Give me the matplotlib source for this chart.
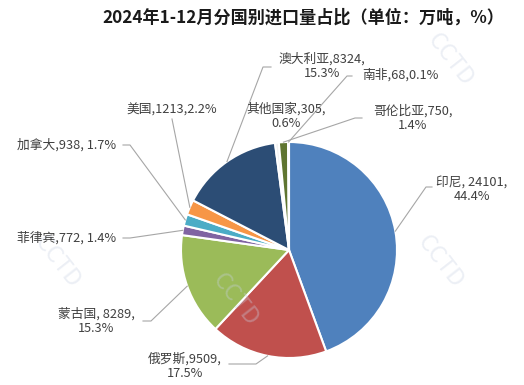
import numpy as np
import matplotlib
matplotlib.use('Agg')
import matplotlib.pyplot as plt
from matplotlib.lines import Line2D

plt.rcParams['font.family'] = ['Noto Sans CJK SC', 'DejaVu Sans']

# data
countries = ['印尼', '俄罗斯', '蒙古国', '菲律宾', '加拿大', '美国',
             '澳大利亚', '其他国家', '哥伦比亚', '南非']
volumes = [24101, 9509, 8289, 772, 938, 1213, 8324, 305, 750, 68]
labels = ['印尼, 24101,\n44.4%', '俄罗斯,9509,\n17.5%', '蒙古国, 8289,\n15.3%',
          '菲律宾,772, 1.4%', '加拿大,938, 1.7%', '美国,1213,2.2%',
          '澳大利亚,8324,\n15.3%', '其他国家,305,\n0.6%', '哥伦比亚,750,\n1.4%',
          '南非,68,0.1%']
colors = ['#4F81BD', '#C0504D', '#9BBB59', '#8064A2', '#4BACC6', '#F79646',
          '#2C4D75', '#F2F2F2', '#5F7530', '#4D3B62']

W, H = 524, 385
# label layout in pixels (top-left origin): text centre, line points near the text
layout = {
    '印尼': ((472, 189), [(432, 187), (426, 187)]),
    '俄罗斯': ((185, 366), [(229, 364), (256, 364)]),
    '蒙古国': ((96, 321), [(143, 321), (151, 321)]),
    '菲律宾': ((67, 238), [(123, 238), (130, 238)]),
    '加拿大': ((67, 145), [(123, 145), (130, 145)]),
    '美国': ((172, 110), [(172, 119)]),
    '澳大利亚': ((322, 66), [(271, 67), (263, 67)]),
    '其他国家': ((286, 116), []),
    '哥伦比亚': ((413, 118), [(362, 118), (355, 118)]),
    '南非': ((400, 75), [(352, 76), (347, 76)]),
}

fig = plt.figure(figsize=(W / 100, H / 100), dpi=100)
cx, cy, r = 289, 250, 108
ax = fig.add_axes([(cx - r) / W, (H - cy - r) / H, 2 * r / W, 2 * r / H])
wedges, _ = ax.pie(volumes, colors=colors, startangle=90, counterclock=False,
                   wedgeprops=dict(edgecolor='white', linewidth=1.5))
ax.set_xlim(-1, 1)
ax.set_ylim(-1, 1)

fig.text(303 / W, 1 - 18 / H, '2024年1-12月分国别进口量占比（单位：万吨，%）',
         ha='center', va='center', fontsize=12.3, fontweight='bold', color='#1a1a1a')

to_fig = fig.transFigure.inverted()
for w, name, lab in zip(wedges, countries, labels):
    (tx, ty), pts = layout[name]
    fig.text(tx / W, 1 - ty / H, lab, ha='center', va='center',
             fontsize=9.2, color='#404040', linespacing=1.15)
    if not pts:
        continue
    ang = np.deg2rad((w.theta1 + w.theta2) / 2)
    edge = to_fig.transform(ax.transData.transform((np.cos(ang), np.sin(ang))))
    xs = [p[0] / W for p in pts] + [edge[0]]
    ys = [1 - p[1] / H for p in pts] + [edge[1]]
    fig.add_artist(Line2D(xs, ys, color='#A6A6A6', lw=0.8, transform=fig.transFigure))

# faint watermark
for wx, wy in [(57, 262), (440, 262), (235, 300), (450, 60)]:
    fig.text(wx / W, 1 - wy / H, 'CCTD', rotation=-52, ha='center', va='center',
             fontsize=17, color='#C9D2E3', alpha=0.35, zorder=0)

fig.savefig('out.png', dpi=100)
